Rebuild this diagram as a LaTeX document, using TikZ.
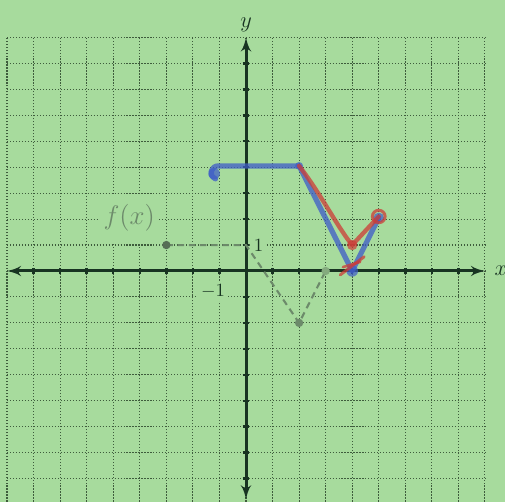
\documentclass[tikz,border=0pt]{standalone}
\usepackage{amsmath,amssymb}
\usepackage{xcolor}
\usepackage{tikz}
\usetikzlibrary{shapes.geometric, arrows, positioning}
\definecolor{paper}{RGB}{167,219,157}
\definecolor{gridgreen}{RGB}{62,92,60}
\definecolor{axisgreen}{RGB}{24,52,34}
\definecolor{fgray}{RGB}{108,138,106}
\definecolor{penblue}{RGB}{62,92,200}
\definecolor{penred}{RGB}{205,60,55}
\tikzstyle{gridline} = [draw=gridgreen, densely dotted, line width=0.6pt]
\tikzstyle{axis} = [draw=axisgreen, line width=1.6pt, latex'-latex']
\tikzstyle{tick} = [draw=axisgreen, line width=1.3pt]
\tikzstyle{lbl} = [fill=paper, inner sep=1.5pt, text=axisgreen]
\tikzstyle{fline} = [draw=fgray, line width=1.1pt, dash pattern=on 3.5pt off 2.5pt]
\tikzstyle{fdot} = [circle, fill=fgray!80!black, inner sep=0pt, minimum size=4.5pt]
\tikzstyle{blueink} = [draw=penblue, opacity=0.75, line width=2.8pt, line cap=round, line join=round]
\tikzstyle{redink} = [draw=penred, opacity=0.75, line width=2.3pt, line cap=round, line join=round]

\begin{document}
\begin{tikzpicture}[x=0.5cm, y=0.4887cm]
    \useasboundingbox[fill=paper] (-9.266,-8.902) rectangle (9.755,10.443);
    % Grid and axes
    \draw[gridline, xstep=0.5cm, ystep=0.4887cm] (-9,-9) grid (9,9);
    \foreach \i in {-8,...,-1,1,2,...,8} {
        \draw[tick] (\i,-0.13) -- (\i,0.13);
        \draw[tick] (-0.13,\i) -- (0.13,\i);
    }
    \draw[axis] (-9,0) -- (9,0);
    \draw[axis] (0,-8.8) -- (0,9);
    \node[text=axisgreen, font=\large] (xlabel) at (9.6,0) {$x$};
    \node[text=axisgreen, font=\large] (ylabel) at (0,9.5) {$y$};
    \node[lbl] (one) at (0.47,1) {$1$};
    \node[lbl] (minusone) at (-1.24,-0.8) {$-1$};
    \node[fill=paper, text=fgray, font=\Large, minimum width=32pt, minimum height=26pt, inner sep=0pt] (flabel) at (-4.4,2.05) {$f(x)$};

    % Nodes
    \coordinate (fa) at (-3,1);
    \coordinate (fb) at (0,1);
    \coordinate (fc) at (2,-2);
    \coordinate (fd) at (3,0);
    \coordinate (ga) at (-1.05,4.05);
    \coordinate (gb) at (2,4.05);
    \coordinate (gc) at (4,0);
    \coordinate (gd) at (5,2.05);
    \coordinate (ha) at (4,1);
    \coordinate (hb) at (5,2.1);

    % Edges
    \path[fline] (fa) -- (fb) -- (fc) -- (fd);
    \node[fdot] at (fa) {};
    \node[fdot, fill=fgray] at (fc) {};
    \node[fdot, fill=fgray!60!paper] at (fd) {};

    \path[blueink] (-1.15,3.55) .. controls (-1.45,3.7) and (-1.3,4.05) .. (ga) -- (gb) -- (gc) -- (gd);
    \fill[penblue, opacity=0.7] (-1.2,3.75) circle (0.22);
    \fill[penblue, opacity=0.7] (gb) circle (0.15);
    \fill[penblue, opacity=0.7] (gc) circle (0.22);
    \fill[penblue, opacity=0.7] (gd) circle (0.2);

    \path[redink] (gb) .. controls (2.8,3) and (3.5,1.6) .. (ha) -- (hb);
    \fill[penred, opacity=0.7] (ha) circle (0.2);
    \draw[penred, opacity=0.75, line width=1.6pt] (hb) circle (0.24);
    \path[redink, line width=1.6pt] (3.55,-0.15) -- (4.45,0.55);
    \path[redink, line width=1.4pt] (3.65,0.15) -- (4.3,0.35);
\end{tikzpicture}
\end{document}
